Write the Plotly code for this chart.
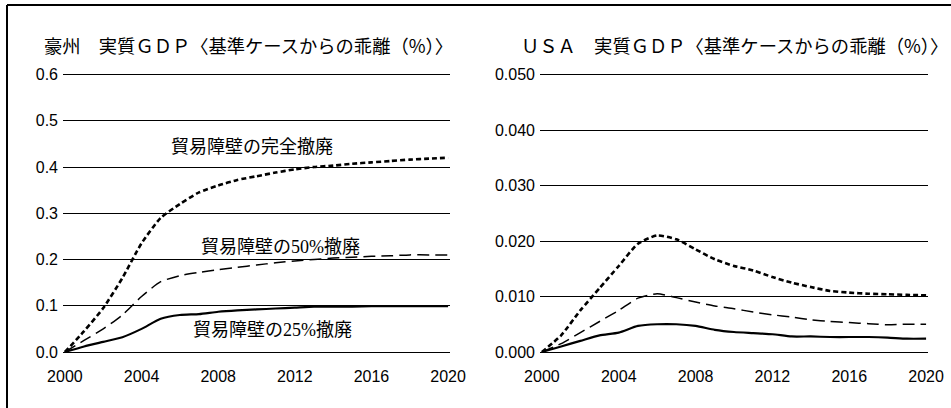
import plotly.graph_objects as go

years = list(range(2000, 2021))

# Australia real GDP deviation from baseline (%)
aus_full = [0, 0.045, 0.095, 0.16, 0.235, 0.29, 0.32, 0.345, 0.36, 0.372, 0.38,
            0.388, 0.395, 0.40, 0.403, 0.407, 0.41, 0.413, 0.416, 0.418, 0.42]
aus_50 = [0, 0.025, 0.05, 0.08, 0.12, 0.152, 0.165, 0.172, 0.178, 0.183, 0.188,
          0.193, 0.197, 0.20, 0.203, 0.205, 0.207, 0.208, 0.21, 0.21, 0.21]
aus_25 = [0, 0.012, 0.022, 0.032, 0.05, 0.072, 0.08, 0.082, 0.087, 0.09, 0.092,
          0.094, 0.096, 0.098, 0.098, 0.098, 0.099, 0.099, 0.099, 0.099, 0.099]

# USA real GDP deviation from baseline (%)
usa_full = [0, 0.003, 0.0075, 0.0115, 0.0155, 0.0195, 0.021, 0.0203, 0.0185, 0.0167, 0.0155,
            0.0147, 0.0135, 0.0125, 0.0117, 0.011, 0.0107, 0.0105, 0.0104, 0.0103, 0.0102]
usa_50 = [0, 0.0015, 0.0035, 0.0055, 0.0075, 0.0097, 0.0105, 0.0098, 0.009, 0.0083, 0.0078,
          0.0072, 0.0067, 0.0063, 0.0058, 0.0055, 0.0053, 0.0051, 0.0049, 0.005, 0.005]
usa_25 = [0, 0.001, 0.002, 0.003, 0.0035, 0.0047, 0.005, 0.005, 0.0047, 0.004, 0.0036,
          0.0034, 0.0032, 0.0028, 0.0028, 0.0027, 0.0027, 0.0027, 0.0026, 0.0024, 0.0024]

aus_yticks = [0, 0.1, 0.2, 0.3, 0.4, 0.5, 0.6]
usa_yticks = [0, 0.01, 0.02, 0.03, 0.04, 0.05]
xticks = [2000, 2004, 2008, 2012, 2016, 2020]

title_aus = "豪州　実質ＧＤＰ〈基準ケースからの乖離（%）〉"
title_usa = "ＵＳＡ　実質ＧＤＰ〈基準ケースからの乖離（%）〉"
lbl_full = "貿易障壁の完全撤廃"
lbl_50 = "貿易障壁の50%撤廃"
lbl_25 = "貿易障壁の25%撤廃"

W, H = 951, 408
fig = go.Figure()

styles = [
    dict(color="black", width=2.6, dash="5px,3px"),
    dict(color="black", width=1.5, dash="12px,6px"),
    dict(color="black", width=2.2),
]

for ys, st in zip([aus_full, aus_50, aus_25], styles):
    fig.add_trace(go.Scatter(x=years, y=ys, mode="lines", line=dict(**st, shape="spline", smoothing=0.6),
                             xaxis="x", yaxis="y", showlegend=False, hoverinfo="skip"))
for ys, st in zip([usa_full, usa_50, usa_25], styles):
    fig.add_trace(go.Scatter(x=years, y=ys, mode="lines", line=dict(**st, shape="spline", smoothing=0.6),
                             xaxis="x2", yaxis="y2", showlegend=False, hoverinfo="skip"))

tickfont = dict(family="Liberation Sans, Arial, sans-serif", size=16, color="black")
xcommon = dict(range=[1999.9, 2020.1], tickvals=xticks, showgrid=False, zeroline=False,
               showline=False, ticks="", tickfont=tickfont, ticklabelstandoff=11, automargin=False)

# y pixel mapping: value 0 at y=352, top tick at y=74.5; pad ranges slightly so edge gridlines draw
pad_px = 1.5
ydom = [(56 - pad_px) / H, (333.5 + pad_px) / H]
aus_pad = 0.6 * pad_px / 277.5
usa_pad = 0.05 * pad_px / 277.5

fig.update_layout(
    width=W, height=H,
    margin=dict(l=0, r=0, t=0, b=0, pad=0, autoexpand=False),
    paper_bgcolor="white", plot_bgcolor="white",
    xaxis=dict(domain=[63 / W, 450 / W], anchor="y", **xcommon),
    xaxis2=dict(domain=[540 / W, 928 / W], anchor="y2", **xcommon),
    yaxis=dict(domain=ydom, anchor="x", range=[-aus_pad, 0.6 + aus_pad], tickvals=aus_yticks,
               tickformat=".1f", showgrid=True, gridcolor="black", gridwidth=1, zeroline=False,
               showline=False, ticks="", tickfont=tickfont, ticklabelstandoff=4, automargin=False),
    yaxis2=dict(domain=ydom, anchor="x2", range=[-usa_pad, 0.05 + usa_pad], tickvals=usa_yticks,
                tickformat=".3f", showgrid=True, gridcolor="black", gridwidth=1, zeroline=False,
                showline=False, ticks="", tickfont=tickfont, ticklabelstandoff=4, automargin=False),
)

title_font = dict(family="Noto Sans CJK JP, sans-serif", size=18.3, color="black")
lbl_font = dict(family="Liberation Serif, Noto Sans CJK JP, serif", size=18, color="black")
fig.add_annotation(text=title_aus, x=42 / W, y=1 - 45 / H, xref="paper", yref="paper",
                   xanchor="left", yanchor="middle", showarrow=False, font=title_font)
fig.add_annotation(text=title_usa, x=519 / W, y=1 - 45 / H, xref="paper", yref="paper",
                   xanchor="left", yanchor="middle", showarrow=False, font=title_font)
fig.add_annotation(text=lbl_full, x=252 / W, y=1 - 147 / H, xref="paper", yref="paper",
                   xanchor="center", yanchor="middle", showarrow=False, font=lbl_font)
fig.add_annotation(text=lbl_50, x=280 / W, y=1 - 247 / H, xref="paper", yref="paper",
                   xanchor="center", yanchor="middle", showarrow=False, font=lbl_font)
fig.add_annotation(text=lbl_25, x=272 / W, y=1 - 330 / H, xref="paper", yref="paper",
                   xanchor="center", yanchor="middle", showarrow=False, font=lbl_font)

# frame lines (top and left)
fig.add_shape(type="line", xref="paper", yref="paper", x0=7 / W, x1=1, y0=1 - 5 / H, y1=1 - 5 / H,
              line=dict(color="black", width=2))
fig.add_shape(type="line", xref="paper", yref="paper", x0=7 / W, x1=7 / W, y0=1 - 5 / H, y1=0,
              line=dict(color="black", width=2))

fig.write_html("out.html", config={"displayModeBar": False},
               post_script="document.body.style.margin='0';")
